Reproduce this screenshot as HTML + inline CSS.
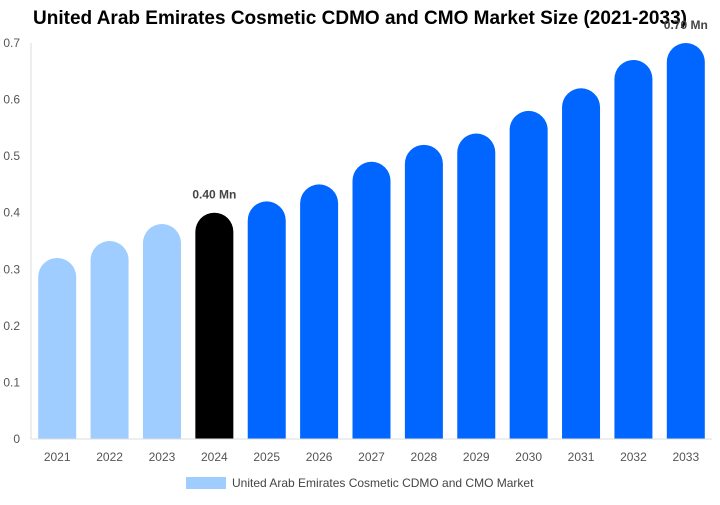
<!DOCTYPE html>
<html><head><meta charset="utf-8"><style>
body{margin:0;background:#fff;font-family:"Liberation Sans",Arial,sans-serif;}
</style></head><body>
<svg width="720" height="500" xmlns="http://www.w3.org/2000/svg">
<text x="360" y="24" text-anchor="middle" font-size="19" font-weight="bold" fill="#000">United Arab Emirates Cosmetic CDMO and CMO Market Size (2021-2033)</text>
<g id="yaxis"></g>
<g id="bars"></g>
<g id="xaxis"></g>
<rect x="186" y="477" width="40" height="12" fill="#9fcdff"/>
<text x="232" y="487" font-size="12" fill="#444">United Arab Emirates Cosmetic CDMO and CMO Market</text>
</svg>
<script>
const categories=["2021","2022","2023","2024","2025","2026","2027","2028","2029","2030","2031","2032","2033"];
const values=[0.32,0.35,0.38,0.40,0.42,0.45,0.49,0.52,0.54,0.58,0.62,0.67,0.70];
const yTicks=[0,0.1,0.2,0.3,0.4,0.5,0.6,0.7];
const labels={3:"0.40 Mn",12:"0.70 Mn"};
const NS="http://www.w3.org/2000/svg";
const x0=31,x1=712,y0=439,y1=43,ymax=0.7;
const band=(x1-x0)/categories.length,bw=38;
const yS=v=>y0-(v/ymax)*(y0-y1);
const xC=i=>x0+band*(i+0.5);
function mk(t,a,p){const e=document.createElementNS(NS,t);for(const k in a)e.setAttribute(k,a[k]);p.appendChild(e);return e;}
const ya=document.getElementById('yaxis'),bg=document.getElementById('bars'),xa=document.getElementById('xaxis');
yTicks.forEach(t=>{const e=mk('text',{x:20,y:yS(t)+4,'text-anchor':'end','font-size':12,fill:'#555'},ya);e.textContent=t;

});
const al=mk('line',{x1:x0,y1:y0,x2:x1,y2:y0,stroke:'#ddd'},xa);


const vl=mk('line',{x1:x0,y1:y1,x2:x0,y2:y0,stroke:'#ddd'},ya);


categories.forEach((c,i)=>{
 const cx=xC(i),top=yS(values[i]),r=bw/2,l=cx-r;
 const col=i<3?'#9fcdff':(i===3?'#000':'#0066ff');
 const p=mk('path',{d:`M${l},${y0}V${top+r}A${r},${r} 0 0 1 ${l+bw},${top+r}V${y0}Z`,fill:col},bg);
 
 
 const t=mk('text',{x:cx,y:y0+22,'text-anchor':'middle','font-size':12,fill:'#555'},xa);t.textContent=c;
 
 
 if(labels[i]){const v=mk('text',{x:cx,y:top-14,'text-anchor':'middle','font-size':12,'font-weight':'bold',fill:'#444'},bg);v.textContent=labels[i];
 
 }
});
</script>
</body></html>
